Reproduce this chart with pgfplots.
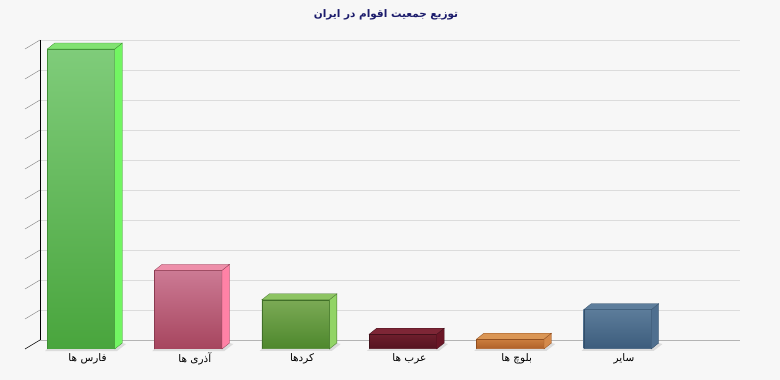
\documentclass[border=0pt]{standalone}
\usepackage{fontspec}
\usepackage{pgfplots}
\pgfplotsset{compat=1.18}
\newfontfamily\fa[Script=Arabic]{DejaVu Sans}
\TeXXeTstate=1
\definecolor{bg}{HTML}{F7F7F7}
\definecolor{gridc}{HTML}{DCDCDC}
\definecolor{baseline}{HTML}{B4B4B4}
\definecolor{tickc}{HTML}{8A8A8A}
\definecolor{titlec}{HTML}{1C1C6C}
\definecolor{shadowc}{HTML}{DCDCDC}
% Farsi
\definecolor{aT}{HTML}{7FCC7A}\definecolor{aB}{HTML}{49A53D}\definecolor{aS}{HTML}{72F562}\definecolor{aP}{HTML}{82E272}\definecolor{aE}{HTML}{3E8E34}
% Azeri
\definecolor{bT}{HTML}{CC7A94}\definecolor{bB}{HTML}{A6455E}\definecolor{bS}{HTML}{FF82A6}\definecolor{bP}{HTML}{EE8FAA}\definecolor{bE}{HTML}{8A3A50}
% Kurds
\definecolor{cT}{HTML}{7BAA55}\definecolor{cB}{HTML}{4D872C}\definecolor{cS}{HTML}{92D466}\definecolor{cP}{HTML}{8DC463}\definecolor{cE}{HTML}{406F28}
% Arabs
\definecolor{dT}{HTML}{6E1E2C}\definecolor{dB}{HTML}{541320}\definecolor{dS}{HTML}{6A1626}\definecolor{dP}{HTML}{7E2636}\definecolor{dE}{HTML}{40101A}
% Baloch
\definecolor{eT}{HTML}{CC7E3E}\definecolor{eB}{HTML}{AE5F27}\definecolor{eS}{HTML}{D4894A}\definecolor{eP}{HTML}{DA9655}\definecolor{eE}{HTML}{8E4C1E}
% Others
\definecolor{fT}{HTML}{5C7C9A}\definecolor{fB}{HTML}{3C5C7C}\definecolor{fS}{HTML}{4F6F8F}\definecolor{fP}{HTML}{5E7E9C}\definecolor{fE}{HTML}{334F6A}

\pgfdeclareplotmark{empty}{}
\pgfplotsset{
  bar3d/.style n args={5}{
    ybar, bar width=67.5bp, bar shift=0pt, draw=#5, line width=0.4pt,
    top color=#1, bottom color=#2,
    scatter, mark=empty,
    point meta=explicit, point meta min=0, point meta max=100,
    visualization depends on={rawy \as \ry},
    scatter/@pre marker code/.code={%
      \pgfmathsetmacro\hh{\ry*4.918033}%
      \path[draw=none, top color=shadowc, bottom color=shadowc] (-36bp,{-\hh bp-2bp}) -- (36bp,{-\hh bp-2bp}) -- (45bp,{-\hh bp+5bp}) -- (41.25bp,{-\hh bp+6bp}) -- (33.75bp,{-\hh bp}) -- (-33.75bp,{-\hh bp}) -- cycle;
      \path[top color=#3, bottom color=#3, draw=#5, line width=0.3pt] (33.75bp,0bp) -- (41.25bp,6bp) -- (41.25bp,{6bp-\hh bp}) -- (33.75bp,{-\hh bp}) -- cycle;
      \path[top color=#4, bottom color=#4, draw=#5, line width=0.3pt] (-33.75bp,0bp) -- (-26.25bp,6bp) -- (41.25bp,6bp) -- (33.75bp,0bp) -- cycle;
    },
    scatter/@post marker code/.code={},
  },
}

\begin{document}
\begin{tikzpicture}
\fill[bg] (0,0) rectangle (780bp,380bp);
% back wall
\begin{axis}[
  at={(40bp,40bp)}, anchor=south west, scale only axis,
  width=700bp, height=300bp,
  xmin=0, xmax=1, ymin=0, ymax=10,
  axis lines=left, axis line style={-},
  x axis line style={draw=baseline, line width=0.8pt},
  y axis line style={draw=black, line width=0.7pt},
  xtick=\empty, ytick={0,...,10}, yticklabels={},
  major tick length=0pt,
  ymajorgrids, grid style={draw=gridc, line width=0.8pt},
]
\end{axis}
\foreach \k in {1,...,10} \draw[tickc, line width=0.5pt] (40bp,{40bp+\k*30bp}) -- ++(-15bp,-9bp);
\draw[black, line width=0.6pt] (40bp,40bp) -- ++(-15bp,-9bp);
% bars
\begin{axis}[
  at={(25bp,31bp)}, anchor=south west, scale only axis,
  width=700bp, height=300bp,
  xmin=-0.522, xmax=6.002, ymin=0, ymax=61,
  axis line style={draw=none}, clip=false,
  xtick={0,...,5},
  xticklabels={
    {\beginR فارس ها\endR},
    {\beginR آذری ها\endR},
    {\beginR کردها\endR},
    {\beginR عرب ها\endR},
    {\beginR بلوچ ها\endR},
    {\beginR سایر\endR}},
  xticklabel style={font=\fa\fontsize{10.5}{12}\selectfont, anchor=center, xshift=6.5bp, yshift=-9.5bp, text=black},
  ytick=\empty, major tick length=0pt,
]
\addplot[bar3d={aT}{aB}{aS}{aP}{aE}] coordinates {(0,61) [0]};
\addplot[bar3d={bT}{bB}{bS}{bP}{bE}] coordinates {(1,16) [0]};
\addplot[bar3d={cT}{cB}{cS}{cP}{cE}] coordinates {(2,10) [0]};
\addplot[bar3d={dT}{dB}{dS}{dP}{dE}] coordinates {(3,3) [0]};
\addplot[bar3d={eT}{eB}{eS}{eP}{eE}] coordinates {(4,2) [0]};
\addplot[bar3d={fT}{fB}{fS}{fP}{fE}] coordinates {(5,8) [0]};
\end{axis}
\node[font=\fa\bfseries\fontsize{10.5}{12}\selectfont, text=titlec] at (386bp,365bp) {\beginR توزیع جمعیت اقوام در ایران\endR};
\pgfresetboundingbox
\path[use as bounding box] (0,0) rectangle (780bp,380bp);
\end{tikzpicture}
\end{document}
